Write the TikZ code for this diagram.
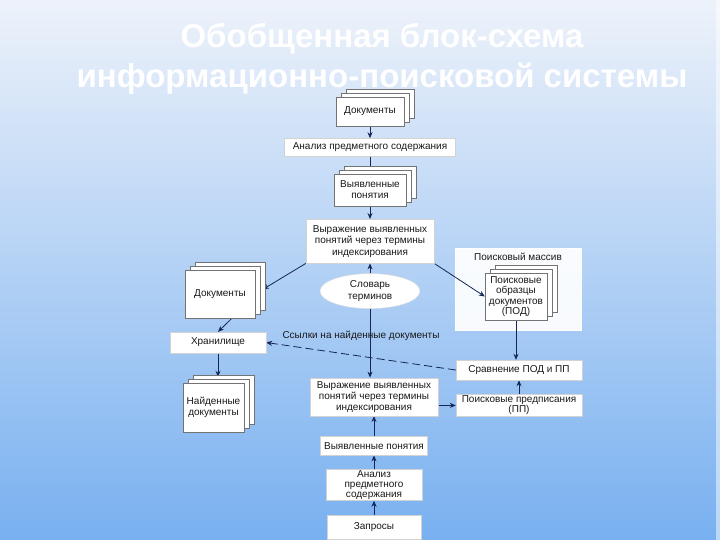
\documentclass[tikz,border=0pt]{standalone}
\usepackage{fontspec}
\setmainfont{Liberation Sans}
\usetikzlibrary{positioning,calc,arrows.meta,shadows,shapes.geometric}
\pgfdeclarelayer{bg}
\pgfsetlayers{bg,main}
\definecolor{bgtop}{RGB}{237,242,250}
\definecolor{bgmid}{RGB}{169,203,243}
\definecolor{bgbot}{RGB}{120,176,240}
\definecolor{linkblue}{RGB}{20,38,85}
\definecolor{textgray}{RGB}{25,25,25}

\begin{document}
\begin{tikzpicture}[x=1pt, y=-1pt,
    node distance=12pt,
    every node/.style={font=\fontsize{10}{11.5}\selectfont, text=textgray},
    heading/.style={text=white, anchor=base, font=\fontsize{33}{36}\selectfont\bfseries},
    block/.style={rectangle, draw=gray!35, fill=white, align=center, inner sep=1pt},
    sheets/.style={rectangle, draw=black!55, line width=0.4pt, fill=white, align=center, inner sep=1pt, double copy shadow={shadow xshift=5pt, shadow yshift=4pt}},
    vocab/.style={ellipse, draw=gray!30, fill=white, align=center, minimum width=100pt, minimum height=35pt, inner sep=0pt},
    arrow/.style={-{Stealth[length=6pt, width=5pt]}, line width=0.8pt, draw=linkblue},
    link/.style={line width=0.8pt, draw=linkblue}
]
\useasboundingbox (0,0) rectangle (720,540);

% title
\node[heading] (title1) at (382,48) {Обобщенная блок-схема};
\node[heading] (title2) at (382,88) {информационно-поисковой системы};

% indexing of documents
\node[sheets, minimum width=68pt, minimum height=29pt] (docsTop) at (370,111.5) {Документы};
\node[block, minimum width=171pt, minimum height=18pt, below=12pt of docsTop] (analysisTop) {Анализ предметного содержания};
\node[sheets, minimum width=72pt, minimum height=32pt, below=17pt of analysisTop] (conceptsTop) {Выявленные\\понятия};
\node[block, minimum width=128pt, minimum height=44pt, below=13pt of conceptsTop] (exprTop) {Выражение выявленных\\понятий через термины\\индексирования};
\node[vocab, below=10pt of exprTop] (dict) {Словарь\\терминов};

% left side
\node[sheets, minimum width=70pt, minimum height=48pt] (docsLeft) at (220,294) {Документы};
\node[block, minimum width=96pt, minimum height=21pt] (storage) at (218,342.5) {Хранилище};
\node[sheets, minimum width=61pt, minimum height=49pt] (found) at (213.5,407.5) {Найденные\\документы};

% right side
\node[sheets, minimum width=62pt, minimum height=47pt, font=\fontsize{10}{10.5}\selectfont] (pod) at (516,296.5) {Поисковые\\образцы\\документов\\(ПОД)};
\node[block, minimum width=126pt, minimum height=20pt] (compare) at (519,370) {Сравнение ПОД и ПП};
\node[block, minimum width=126pt, minimum height=22pt, below=14pt of compare, inner sep=1pt, font=\fontsize{10}{9.8}\selectfont] (prescr) {Поисковые предписания\\(ПП)};

% queries
\node[block, minimum width=94pt, minimum height=24pt] (queries) at (374,527) {Запросы};
\node[block, minimum width=96pt, minimum height=31pt, above=14pt of queries, inner sep=1pt, font=\fontsize{10}{9.8}\selectfont] (analysisBot) {Анализ\\предметного\\содержания};
\node[block, minimum width=107pt, minimum height=19pt, above=14pt of analysisBot] (conceptsBot) {Выявленные понятия};
\node[block, minimum width=128pt, minimum height=38pt, above=20pt of conceptsBot, font=\fontsize{10}{11}\selectfont] (exprBot) {Выражение выявленных\\понятий через термины\\индексирования};

\begin{pgfonlayer}{bg}
\shade[top color=bgtop, middle color=bgmid, bottom color=bgbot] (0,0) rectangle (720,540);
\fill[white, opacity=0.5] (716,0) rectangle (720,540);
\node[fill=white, fill opacity=0.92, draw=white, minimum width=126pt, minimum height=82pt] (pool) at (518,289) {};
\node[below=2pt of pool.north] (poolName) {Поисковый массив};

\draw[arrow] (docsTop) -- (analysisTop);
\draw[link] (analysisTop) -- (conceptsTop);
\draw[arrow] (conceptsTop) -- (exprTop);
\draw[arrow] (dict) -- (exprTop);
\draw[arrow] (dict) -- (dict.south |- exprBot.north);
\draw[arrow, shorten >=9pt] (exprTop.south west) -- (docsLeft.east);
\draw[arrow] ($(docsLeft.south)+(12pt,0)$) -- (storage.north);
\draw[arrow, shorten >=6pt] (storage) -- (storage.south |- found.north);
\draw[arrow] (exprTop.south east) -- (pod.west);
\draw[arrow] (pod) -- (pod.south |- compare.north);
\draw[arrow] (prescr) -- (compare);
\draw[arrow] (prescr.west -| exprBot.east) -- (prescr.west);
\draw[arrow, dash pattern=on 8pt off 4pt] (compare.west) -- node[above=12pt] {Ссылки на найденные документы} (storage.east);
\draw[arrow] (conceptsBot) -- (exprBot);
\draw[arrow] (analysisBot) -- (conceptsBot);
\draw[arrow] (queries) -- (analysisBot);
\end{pgfonlayer}
\end{tikzpicture}
\end{document}
